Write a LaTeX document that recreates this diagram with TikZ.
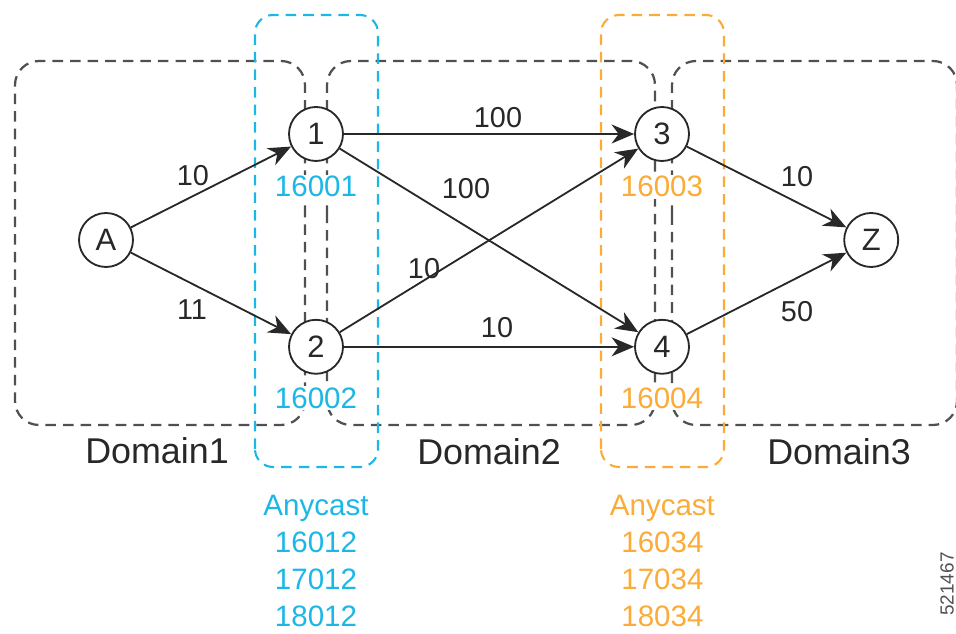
\documentclass[tikz,border=0pt]{standalone}
\usepackage{fontspec}
\setmainfont{Liberation Sans}
\usetikzlibrary{arrows.meta}
\definecolor{sidblue}{RGB}{27,183,230}
\definecolor{sidorange}{RGB}{251,171,55}
\definecolor{domgray}{RGB}{80,80,80}
\definecolor{ink}{RGB}{40,40,40}
\tikzset{
  rtr/.style={circle,draw=ink,line width=1.3pt,fill=white,minimum size=1.35cm,inner sep=0pt,text=ink,font=\fontsize{22}{26}\selectfont},
  lnk/.style={draw=ink,line width=1.3pt,-{Stealth[length=16pt,width=13.5pt,inset=5pt]}},
  wgt/.style={text=ink,font=\fontsize{20.5}{24}\selectfont},
  sid/.style={fill=white,inner sep=1pt,font=\fontsize{21}{25}\selectfont},
  dom/.style={draw=domgray,line width=1.6pt,dash pattern=on 7.5pt off 5pt,rounded corners=0.6cm},
  grp/.style={line width=1.5pt,dash pattern=on 7.5pt off 5pt,rounded corners=0.45cm},
  dname/.style={text=ink,font=\fontsize{25.5}{30}\selectfont},
  anyc/.style={inner sep=0pt,anchor=north,align=center,font=\fontsize{21}{26.2}\selectfont}
}
\begin{document}
\begin{tikzpicture}
\useasboundingbox (0,0) rectangle (23.9,15.85);
% domains
\draw[dom] (7.625,9.85) -- (7.625,14.325) -- (0.375,14.325) -- (0.375,5.225) -- (7.625,5.225) -- cycle;
\draw[dom] (8.175,9.85) -- (8.175,14.325) -- (16.375,14.325) -- (16.375,5.225) -- (8.175,5.225) -- cycle;
\draw[dom] (16.8,9.85) -- (16.8,14.325) -- (23.925,14.325) -- (23.925,5.225) -- (16.8,5.225) -- cycle;
\node[dname] (d1) at (3.925,4.575) {Domain1};
\node[dname] (d2) at (12.225,4.55) {Domain2};
\node[dname] (d3) at (20.975,4.55) {Domain3};
% anycast groups
\draw[grp,draw=sidblue] (6.375,4.175) rectangle (9.45,15.475);
\draw[grp,draw=sidorange] (15.025,4.175) rectangle (18.1,15.475);
% routers
\node[rtr] (A) at (2.65,9.85) {A};
\node[rtr] (r1) at (7.9,12.5) {1};
\node[rtr] (r2) at (7.9,7.18) {2};
\node[rtr] (r3) at (16.55,12.5) {3};
\node[rtr] (r4) at (16.55,7.18) {4};
\node[rtr] (Z) at (21.78,9.85) {Z};
\node[sid,text=sidblue] (s1) at (7.9,11.18) {16001};
\node[sid,text=sidblue] (s2) at (7.9,5.9) {16002};
\node[sid,text=sidorange] (s3) at (16.55,11.18) {16003};
\node[sid,text=sidorange] (s4) at (16.55,5.9) {16004};
% links
\draw[lnk] (A) -- (r1);
\draw[lnk] (A) -- (r2);
\draw[lnk] (r1) -- (r3);
\draw[lnk] (r1) -- (r4);
\draw[lnk] (r2) -- (r3);
\draw[lnk] (r2) -- (r4);
\draw[lnk] (r3) -- (Z);
\draw[lnk] (r4) -- (Z);
\node[wgt] (w1) at (4.825,11.45) {10};
\node[wgt] (w2) at (4.8,8.1) {11};
\node[wgt] (w3) at (12.45,12.9) {100};
\node[wgt] (w4) at (11.65,11.125) {100};
\node[wgt] (w5) at (10.6,9.125) {10};
\node[wgt] (w6) at (12.425,7.65) {10};
\node[wgt] (w7) at (19.925,11.425) {10};
\node[wgt] (w8) at (19.925,8.05) {50};
% anycast SIDs
\node[anyc,text=sidblue] (any12) at (7.9,3.475) {Anycast\\16012\\17012\\18012};
\node[anyc,text=sidorange] (any34) at (16.56,3.475) {Anycast\\16034\\17034\\18034};
\node[rotate=90,text=domgray,font=\fontsize{13.5}{16}\selectfont] (fig) at (23.675,1.25) {521467};
\end{tikzpicture}
\end{document}
